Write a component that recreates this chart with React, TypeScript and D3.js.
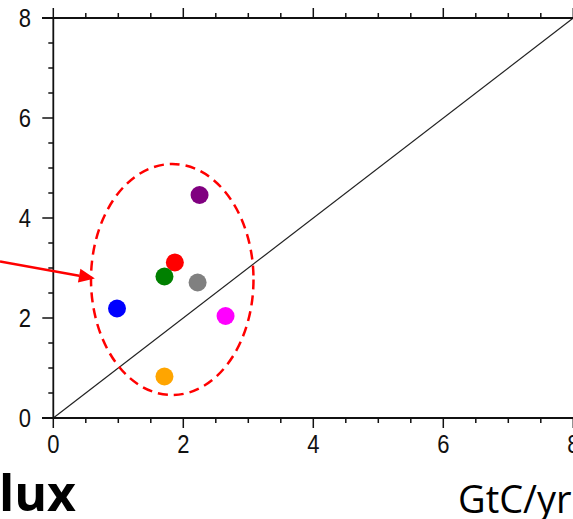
import React from "react";
import * as d3 from "d3";

const W = 573;
const H = 519;

// point data (x, y in GtC/yr)
const pointNames = ["purple", "red", "green", "gray", "blue", "magenta", "orange"];
const pointX = [2.25, 1.87, 1.71, 2.22, 0.98, 2.65, 1.71];
const pointY = [4.46, 3.11, 2.83, 2.71, 2.19, 2.04, 0.83];
const pointColors = ["#800080", "#ff0000", "#008000", "#808080", "#0000ff", "#ff00ff", "#ffa500"];

const majorTicks = [0, 2, 4, 6, 8];
const minorTicks = d3.range(0, 8.01, 0.5);

// ellipse (data units)
const ellipseCenter = [1.83, 2.77];
const ellipseRadii = [1.25, 2.31];

// arrow (data units)
const arrowFrom = [-0.82, 3.13];
const arrowTo = [0.64, 2.79];

const diagonal = [[0, 0], [8, 8]];

const titleText = "Flux";
const unitText = "GtC/yr";

export default function App() {
  const x = d3.scaleLinear().domain([0, 8]).range([53.3, 573.3]);
  const y = d3.scaleLinear().domain([0, 8]).range([418, 18]);
  const line = d3.line<number[]>().x((d) => x(d[0])).y((d) => y(d[1]));

  const ax0 = x(arrowFrom[0]);
  const ay0 = y(arrowFrom[1]);
  const ax1 = x(arrowTo[0]);
  const ay1 = y(arrowTo[1]);
  const ang = Math.atan2(ay1 - ay0, ax1 - ax0);
  const headLen = 16;
  const headHalf = 7;
  const bx = ax1 - headLen * Math.cos(ang);
  const by = ay1 - headLen * Math.sin(ang);
  const px = -Math.sin(ang);
  const py = Math.cos(ang);
  const head = `M${ax1},${ay1}L${bx + px * headHalf},${by + py * headHalf}L${bx - px * headHalf},${by - py * headHalf}Z`;

  const tickFont = "'Liberation Sans', Arial, sans-serif";
  const tickSize = 25;
  const sx = 0.88;

  return (
    <svg
      width={W}
      height={H}
      style={{ position: "absolute", left: 0, top: 0, background: "#fff" }}
    >
      <rect x={0} y={0} width={W} height={H} fill="#fff" />
      {/* diagonal 1:1 */}
      <path d={line(diagonal as number[][]) || ""} stroke="#222" strokeWidth={1.2} fill="none" />

      {/* axes lines */}
      <line x1={42} x2={W} y1={y(0)} y2={y(0)} stroke="#111" strokeWidth={1.8} />
      <line x1={42} x2={W} y1={y(8)} y2={y(8)} stroke="#111" strokeWidth={1.8} />
      <line x1={x(0)} x2={x(0)} y1={y(8)} y2={y(0) + 1} stroke="#111" strokeWidth={1.8} />

      {/* ticks */}
      {minorTicks.map((t) => {
        const major = majorTicks.includes(t);
        const len = major ? 10 : 5;
        return (
          <g key={"t" + t}>
            <line x1={x(t)} x2={x(t)} y1={y(0)} y2={y(0) + len} stroke="#111" strokeWidth={1.5} />
            <line x1={x(t)} x2={x(t)} y1={y(8)} y2={y(8) - len} stroke="#111" strokeWidth={1.5} />
            <line x1={x(0)} x2={x(0) - (major ? 11 : 5)} y1={y(t)} y2={y(t)} stroke="#111" strokeWidth={1.5} />
          </g>
        );
      })}

      {/* tick labels */}
      {majorTicks.map((t) => (
        <text
          key={"xl" + t}
          transform={`translate(${x(t)},${y(0) + 35}) scale(${sx},1)`}
          textAnchor="middle"
          fontFamily={tickFont}
          fontSize={tickSize}
          fill="#111"
        >
          {t}
        </text>
      ))}
      {majorTicks.map((t) => (
        <text
          key={"yl" + t}
          transform={`translate(31,${y(t) + 9}) scale(${sx},1)`}
          textAnchor="end"
          fontFamily={tickFont}
          fontSize={tickSize}
          fill="#111"
        >
          {t}
        </text>
      ))}

      {/* ellipse */}
      <ellipse
        cx={x(ellipseCenter[0])}
        cy={y(ellipseCenter[1])}
        rx={x(ellipseRadii[0]) - x(0)}
        ry={y(0) - y(ellipseRadii[1])}
        fill="none"
        stroke="#ff0000"
        strokeWidth={2.5}
        strokeDasharray="10 6"
      />

      {/* points */}
      {pointNames.map((n, i) => (
        <circle key={n} cx={x(pointX[i])} cy={y(pointY[i])} r={9} fill={pointColors[i]} />
      ))}

      {/* arrow */}
      <line x1={ax0} y1={ay0} x2={bx} y2={by} stroke="#ff0000" strokeWidth={2.5} />
      <path d={head} fill="#ff0000" />

      {/* bottom texts */}
      <text
        x={76}
        y={511}
        textAnchor="end"
        fontFamily="'Open Sans', 'Noto Sans', sans-serif"
        fontWeight="bold"
        fontSize={50}
        fill="#000"
      >
        {titleText}
      </text>
      <text
        x={458}
        y={513}
        fontFamily="'Open Sans', 'Noto Sans', sans-serif"
        fontSize={38}
        fill="#000"
      >
        {unitText}
      </text>
    </svg>
  );
}
